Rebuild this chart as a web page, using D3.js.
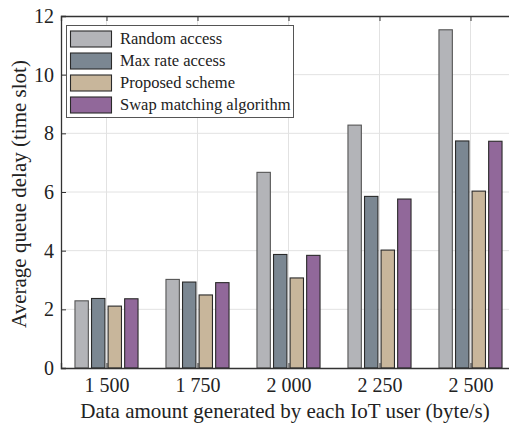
<!DOCTYPE html>
<html>
<head>
<meta charset="utf-8">
<script src="https://cdn.jsdelivr.net/npm/d3@7"></script>
</head>
<body style="margin:0; background:#fff">
<div id="chart"></div>
<script>
// data
var categories = ["1 500", "1 750", "2 000", "2 250", "2 500"]
var seriesNames = ["Random access", "Max rate access", "Proposed scheme", "Swap matching algorithm"]
var seriesColors = ["#b3b4b8", "#7b8792", "#c8b69b", "#91689a"]
var randomAccess = [2.29, 3.02, 6.67, 8.28, 11.53]
var maxRate = [2.37, 2.93, 3.87, 5.85, 7.74]
var proposed = [2.11, 2.49, 3.07, 4.02, 6.03]
var swapMatching = [2.36, 2.91, 3.84, 5.76, 7.73]
var yTicks = [0, 2, 4, 6, 8, 10, 12]

var values = [randomAccess, maxRate, proposed, swapMatching]

var width = 509, height = 424
var margin = { left: 61, top: 16 }
var plotW = 455, plotH = 352   // right side runs past the window, as in the picture
var serif = "'Liberation Serif'"
var textColor = "#222"

var svg = d3.select("#chart").append("svg")
  .attr("width", width).attr("height", height)

var x = d3.scaleLinear().domain([0.5, 5.5]).range([margin.left, margin.left + plotW])
var y = d3.scaleLinear().domain([0, 12]).range([margin.top + plotH, margin.top])

// grid
var grid = svg.append("g").attr("stroke", "#e2e2e2").attr("stroke-width", 1)
grid.selectAll(".gx").data(categories).enter().append("line")
  .attr("x1", function (d, i) { return x(i + 1) }).attr("x2", function (d, i) { return x(i + 1) })
  .attr("y1", y(0)).attr("y2", y(12))
grid.selectAll(".gy").data(yTicks.slice(1, -1)).enter().append("line")
  .attr("x1", x(0.5)).attr("x2", x(5.5))
  .attr("y1", function (d) { return y(d) }).attr("y2", function (d) { return y(d) })

// bars
var step = 0.182, barW = 0.147
var bars = svg.append("g")
values.forEach(function (vals, s) {
  bars.selectAll(".s" + s).data(vals).enter().append("rect")
    .attr("x", function (d, i) { return x(i + 1 + (s - 1.5) * step - barW / 2) })
    .attr("width", x(barW) - x(0))
    .attr("y", function (d) { return y(d) })
    .attr("height", function (d) { return y(0) - y(d) })
    .attr("fill", seriesColors[s])
    .attr("stroke", s === 0 ? "#555" : "#2a2a2a")
    .attr("stroke-width", 1.1)
})

// axes (box with inward ticks)
var axisColor = "#333"
var yAxis = d3.axisLeft(y).tickValues(yTicks).tickSize(-5).tickPadding(7).tickFormat(d3.format("d"))
var gy = svg.append("g").attr("transform", "translate(" + margin.left + ",0)").call(yAxis)
var xAxis = d3.axisBottom(x).tickValues([1, 2, 3, 4, 5]).tickSize(-5).tickPadding(10)
  .tickFormat(function (d) { return categories[d - 1] })
var gx = svg.append("g").attr("transform", "translate(0," + y(0) + ")").call(xAxis)
var gt = svg.append("g").attr("transform", "translate(0," + y(12) + ")")
  .call(d3.axisTop(x).tickValues([1, 2, 3, 4, 5]).tickSize(-5).tickFormat(""))
var gr = svg.append("g").attr("transform", "translate(" + x(5.5) + ",0)")
  .call(d3.axisRight(y).tickValues(yTicks).tickSize(-5).tickFormat(""))
;[gx, gy, gt, gr].forEach(function (g) {
  g.attr("font-family", serif).attr("font-size", 20)
  g.select(".domain").attr("stroke", axisColor).attr("stroke-width", 1.3)
  g.selectAll(".tick line").attr("stroke", axisColor)
  g.selectAll("text").attr("font-family", serif).attr("font-size", 20).attr("fill", textColor)
})

// axis titles
svg.append("text")
  .attr("x", 285).attr("y", 418)
  .attr("text-anchor", "middle").attr("font-family", serif).attr("font-size", 21).attr("fill", textColor)
  .text("Data amount generated by each IoT user (byte/s)")
svg.append("text")
  .attr("transform", "translate(26," + 194 + ") rotate(-90)")
  .attr("text-anchor", "middle").attr("font-family", serif).attr("font-size", 21).attr("fill", textColor)
  .text("Average queue delay (time slot)")

// legend
var legend = svg.append("g")
legend.append("rect")
  .attr("x", 66.5).attr("y", 25.5).attr("width", 227).attr("height", 92)
  .attr("fill", "#fff").attr("stroke", "#555").attr("stroke-width", 1)
seriesNames.forEach(function (name, i) {
  var cy = 39 + i * 22
  legend.append("rect")
    .attr("x", 70.5).attr("y", cy - 8).attr("width", 41).attr("height", 16)
    .attr("fill", seriesColors[i]).attr("stroke", "#2a2a2a").attr("stroke-width", 1.1)
  legend.append("text")
    .attr("x", 120).attr("y", cy + 5)
    .attr("font-family", serif).attr("font-size", 16.5).attr("fill", textColor)
    .text(name)
})
</script>
</body>
</html>
